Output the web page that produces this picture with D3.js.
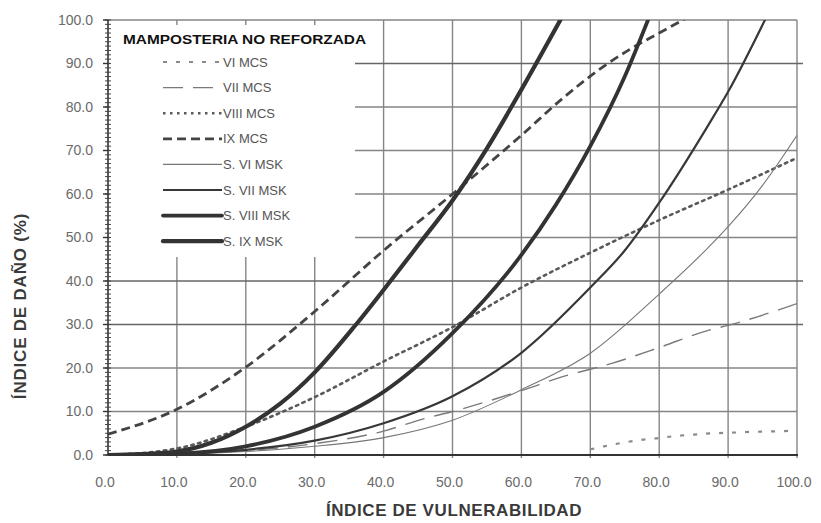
<!DOCTYPE html>
<html>
<head>
<meta charset="utf-8">
<script src="https://cdn.jsdelivr.net/npm/d3@7"></script>
<style>
  body { margin: 0; background: #fff; }
  svg { display: block; font-family: "Liberation Sans", Arial, sans-serif; }
</style>
</head>
<body>
<svg id="chart"></svg>
<script>
const width = 821;
const height = 523;

// x positions (índice de vulnerabilidad) and damage values
const xTicks = [0, 10, 20, 30, 40, 50, 60, 70, 80, 90, 100];
const yTicks = [0, 10, 20, 30, 40, 50, 60, 70, 80, 90, 100];

const viMcsX = [70, 72, 75, 78, 80, 82, 85, 88, 90, 93, 96, 100];
const viMcsY = [1.3, 2.0, 2.9, 3.6, 3.9, 4.3, 4.7, 5.0, 5.1, 5.3, 5.4, 5.6];

const viiMcsX = [0, 10, 20, 30, 40, 46, 50, 60, 66, 73, 80, 87, 90, 100];
const viiMcsY = [0, 0.3, 1.0, 2.6, 5.5, 8.4, 10.0, 14.8, 18.0, 21.0, 24.7, 28.6, 29.8, 34.8];

const viiiMcsX = [0, 10, 20, 30, 40, 50, 60, 70, 80, 90, 100];
const viiiMcsY = [0, 1.5, 6.5, 13.3, 21.5, 29.4, 38.5, 46.5, 54.0, 61.0, 68.3];

const ixMcsX = [0, 10, 20, 30, 40, 50, 60, 66, 72, 76, 80, 84];
const ixMcsY = [4.8, 10.5, 20.2, 33.0, 47.0, 60.0, 73.5, 82.0, 89.4, 93.5, 97.0, 100.5];

const sViX = [0, 10, 20, 30, 40, 50, 60, 70, 80, 87, 90, 95, 100];
const sViY = [0, 0.2, 0.8, 2.0, 4.0, 8.0, 15.0, 23.4, 37.0, 47.5, 52.5, 62.0, 73.5];

const sViiX = [0, 10, 20, 30, 40, 50, 60, 70, 75, 80, 87, 90, 95.5];
const sViiY = [0, 0.3, 1.2, 3.3, 7.3, 13.5, 23.5, 38.5, 47.0, 58.0, 75.5, 83.5, 100.5];

const sViiiX = [0, 10, 20, 30, 40, 50, 60, 65, 70, 75, 78.5];
const sViiiY = [0, 0.3, 2.0, 6.5, 14.5, 28.0, 46.0, 57.5, 71.0, 87.0, 100.5];

const sIxX = [0, 5, 10, 15, 20, 25, 30, 36, 41, 45, 50, 55, 60, 66];
const sIxY = [0, 0.2, 0.8, 2.8, 6.5, 11.8, 19.0, 30.0, 40.0, 48.2, 58.5, 70.5, 84.0, 101];

const seriesNames = ["VI MCS", "VII MCS", "VIII MCS", "IX MCS", "S. VI MSK", "S. VII MSK", "S. VIII MSK", "S. IX MSK"];

const styles = {
  "VI MCS":      { color: "#8a8a8a", w: 2.2, dash: "4,9" },
  "VII MCS":     { color: "#7a7a7a", w: 1.4, dash: "20,10" },
  "VIII MCS":    { color: "#5a5a5a", w: 2.6, dash: "2.5,4.5" },
  "IX MCS":      { color: "#444",    w: 2.8, dash: "9,5" },
  "S. VI MSK":   { color: "#777",    w: 1.1, dash: null },
  "S. VII MSK":  { color: "#383838", w: 2.2, dash: null },
  "S. VIII MSK": { color: "#333",    w: 3.8, dash: null },
  "S. IX MSK":   { color: "#333",    w: 4.2, dash: null }
};

const seriesData = [
  [viMcsX, viMcsY], [viiMcsX, viiMcsY], [viiiMcsX, viiiMcsY], [ixMcsX, ixMcsY],
  [sViX, sViY], [sViiX, sViiY], [sViiiX, sViiiY], [sIxX, sIxY]
].map(([xs, ys], i) => ({
  name: seriesNames[i],
  values: xs.map((x, j) => ({ x, y: ys[j] }))
}));

const svg = d3.select("#chart").attr("width", width).attr("height", height);

const x = d3.scaleLinear().domain([0, 100]).range([108, 797]);
const y = d3.scaleLinear().domain([0, 100]).range([455, 20]);

const fmt = d3.format(".1f");
const darker = d => d === 30 || d === 40 || d === 90;

// grid
const grid = svg.append("g");
grid.selectAll("line.v").data(xTicks.slice(1)).join("line")
  .attr("x1", d => x(d)).attr("x2", d => x(d))
  .attr("y1", y(0) + 3).attr("y2", y(100))
  .attr("stroke", "#858585").attr("stroke-width", 1.4);
grid.selectAll("line.h").data(yTicks.slice(1)).join("line")
  .attr("x1", x(0)).attr("x2", d => darker(d) ? x(100) + 6 : x(100))
  .attr("y1", d => y(d)).attr("y2", d => y(d))
  .attr("stroke", d => darker(d) ? "#666" : "#858585")
  .attr("stroke-width", d => darker(d) ? 1.6 : 1.4);

// legend box hides the grid behind it
svg.append("rect")
  .attr("x", x(0) + 2).attr("y", y(100) + 5)
  .attr("width", 245).attr("height", 232)
  .attr("fill", "#fff");

// curves
svg.append("clipPath").attr("id", "plot-clip")
  .append("rect").attr("x", x(0)).attr("y", y(100)).attr("width", x(100) - x(0)).attr("height", y(0) - y(100));

const line = d3.line().x(d => x(d.x)).y(d => y(d.y)).curve(d3.curveMonotoneX);

svg.append("g").attr("clip-path", "url(#plot-clip)")
  .selectAll("path").data(seriesData).join("path")
  .attr("d", d => line(d.values))
  .attr("fill", "none")
  .attr("stroke", d => styles[d.name].color)
  .attr("stroke-width", d => styles[d.name].w)
  .attr("stroke-dasharray", d => styles[d.name].dash)
  .attr("stroke-linecap", d => d.name === "VIII MCS" ? "round" : "butt");

// axes
const yAxis = svg.append("g");
yAxis.append("line")
  .attr("x1", x(0)).attr("x2", x(0)).attr("y1", y(0)).attr("y2", y(100))
  .attr("stroke", "#333").attr("stroke-width", 1.6);
yAxis.selectAll("line.minor").data(d3.range(0, 101, 1)).join("line")
  .attr("x1", x(0) - 3).attr("x2", x(0) + 3)
  .attr("y1", d => y(d)).attr("y2", d => y(d))
  .attr("stroke", "#444").attr("stroke-width", 1);
yAxis.selectAll("line.major").data(yTicks).join("line")
  .attr("x1", x(0) - 5).attr("x2", x(0))
  .attr("y1", d => y(d)).attr("y2", d => y(d))
  .attr("stroke", "#333").attr("stroke-width", 1.4);
yAxis.selectAll("text").data(yTicks).join("text")
  .attr("x", x(0) - 15).attr("y", d => y(d)).attr("dy", "0.35em")
  .attr("text-anchor", "end")
  .attr("font-size", 14).attr("fill", "#6a6a6a")
  .text(d => fmt(d));

const xAxis = svg.append("g");
xAxis.append("line")
  .attr("x1", x(0)).attr("x2", x(100) + 1).attr("y1", y(0)).attr("y2", y(0))
  .attr("stroke", "#333").attr("stroke-width", 2);
xAxis.selectAll("text").data(xTicks).join("text")
  .attr("x", d => x(d) - 3).attr("y", y(0) + 32)
  .attr("text-anchor", "middle")
  .attr("font-size", 14).attr("fill", "#6a6a6a")
  .text(d => fmt(d));

// axis titles
svg.append("text")
  .attr("x", 454).attr("y", 516)
  .attr("text-anchor", "middle")
  .attr("font-size", 17).attr("font-weight", "bold").attr("fill", "#3a3a3a")
  .attr("letter-spacing", 0.6)
  .text("ÍNDICE DE VULNERABILIDAD");

svg.append("text")
  .attr("transform", "translate(26,306) rotate(-90)")
  .attr("text-anchor", "middle")
  .attr("font-size", 17).attr("font-weight", "bold").attr("fill", "#3a3a3a")
  .attr("letter-spacing", 0.8)
  .text("ÍNDICE DE DAÑO (%)");

// legend
const legend = svg.append("g");
legend.append("text")
  .attr("x", 123).attr("y", 44)
  .attr("font-size", 13.5).attr("font-weight", "bold").attr("fill", "#111")
  .attr("textLength", 243).attr("lengthAdjust", "spacingAndGlyphs")
  .text("MAMPOSTERIA NO REFORZADA");

const item = legend.selectAll("g.item").data(seriesNames).join("g")
  .attr("transform", (d, i) => `translate(0,${62 + i * 25.6})`);
item.append("line")
  .attr("x1", 163).attr("x2", 222)
  .attr("stroke", d => styles[d].color)
  .attr("stroke-width", d => styles[d].w)
  .attr("stroke-dasharray", d => styles[d].dash)
  .attr("stroke-linecap", d => styles[d].w > 3 ? "round" : "butt");
item.append("text")
  .attr("x", 223).attr("dy", "0.35em")
  .attr("font-size", 13).attr("fill", "#555")
  .text(d => d);
</script>
</body>
</html>
